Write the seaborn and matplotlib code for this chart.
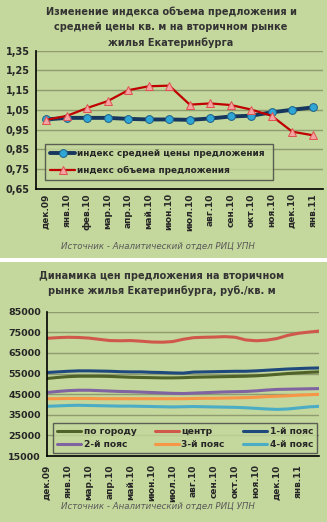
import matplotlib
matplotlib.use("Agg")
import matplotlib.pyplot as plt
import seaborn as sns
import pandas as pd
from matplotlib.patches import Rectangle
from matplotlib.lines import Line2D
from matplotlib.ticker import FuncFormatter, FixedLocator

# ---------------- data ----------------
months_top = ["дек.09", "янв.10", "фев.10", "мар.10", "апр.10", "май.10", "июн.10",
              "июл.10", "авг.10", "сен.10", "окт.10", "ноя.10", "дек.10", "янв.11"]
price_index = [1.002, 1.010, 1.010, 1.010, 1.005, 1.002, 1.002,
               1.000, 1.007, 1.017, 1.021, 1.038, 1.051, 1.063]
volume_index = [1.000, 1.020, 1.060, 1.095, 1.150, 1.170, 1.173,
                1.077, 1.083, 1.075, 1.052, 1.020, 0.940, 0.922]

months_bottom = ["дек.09", "янв.10", "мар.10", "апр.10", "май.10", "июн.10", "июл.10",
                 "авг.10", "сен.10", "окт.10", "ноя.10", "дек.10", "янв.11"]
city = [52600, 53100, 53500, 53700, 53700, 53700, 53600, 53400, 53200, 53100, 53000, 52900, 52900,
        53000, 53200, 53300, 53400, 53500, 53600, 53700, 53900, 54200, 54600, 55000, 55300, 55600, 55800]
center = [72100, 72400, 72600, 72500, 72200, 71600, 71000, 70900, 71000, 70700, 70300, 70200, 70500,
          71600, 72400, 72600, 72700, 72900, 72600, 71300, 70900, 71200, 72000, 73500, 74500, 75100, 75600]
belt1 = [55500, 55800, 56100, 56300, 56300, 56200, 56100, 55900, 55800, 55800, 55600, 55500, 55300,
         55200, 55700, 55800, 55900, 56000, 56100, 56100, 56300, 56600, 56900, 57200, 57400, 57600, 57700]
belt2 = [45800, 46300, 46700, 46900, 46900, 46700, 46500, 46300, 46200, 46000, 45800, 45600, 45400,
         45300, 45500, 45700, 45900, 46100, 46200, 46300, 46600, 47000, 47300, 47400, 47500, 47600, 47700]
belt3 = [42800, 42800, 42900, 42900, 42900, 42800, 42800, 42800, 42800, 42800, 42800, 42800, 42800,
         42800, 42900, 43000, 43000, 43100, 43200, 43300, 43500, 43800, 44000, 44200, 44500, 44700, 44900]
belt4 = [39100, 39300, 39500, 39600, 39500, 39400, 39300, 39200, 39200, 39100, 39000, 38900, 38800,
         38900, 39000, 38900, 38800, 38700, 38600, 38400, 38100, 37800, 37600, 37800, 38300, 38800, 39100]

series_names = ["по городу", "центр", "1-й пояс", "2-й пояс", "3-й пояс", "4-й пояс"]
series_vals = [city, center, belt1, belt2, belt3, belt4]
series_cols = ["#4F6228", "#D0584A", "#1F497D", "#8064A2", "#F79646", "#4BACC6"]

BG = "#C4D79C"
GRID = "#8E9C70"
TXT = "#262626"

sns.set_theme(style="white")
plt.rcParams["font.family"] = ["DejaVu Sans"]

fig = plt.figure(figsize=(3.27, 5.22), dpi=100, facecolor=BG)
W, H = 327.0, 522.0

# white separator band
fig.add_artist(Rectangle((0, 1 - 262 / H), 1, 4 / H, transform=fig.transFigure,
                         facecolor="white", edgecolor="none", zorder=0))

# ---------------- top chart ----------------
ax1 = fig.add_axes([36 / W, 1 - 189 / H, 287 / W, (189 - 50.7) / H])
ax1.set_facecolor(BG)
df_top = pd.DataFrame({"pos": range(len(months_top)), "price": price_index, "vol": volume_index})
sns.lineplot(data=df_top, x="pos", y="price", ax=ax1, color="#17375E", lw=2.8,
             marker="o", markersize=5.6, markerfacecolor="#2FA6D4", markeredgecolor="#1B5F8A",
             markeredgewidth=0.7, label="индекс средней цены предложения", zorder=3)
sns.lineplot(data=df_top, x="pos", y="vol", ax=ax1, color="#C00000", lw=1.6,
             marker="^", markersize=5.2, markerfacecolor="#F4A3A3", markeredgecolor="#E05050",
             markeredgewidth=0.7, label="индекс объема предложения", zorder=4)
ax1.set_xlim(-0.5, len(months_top) - 0.5)
ax1.set_ylim(0.65, 1.35)
yt = [0.65, 0.75, 0.85, 0.95, 1.05, 1.15, 1.25, 1.35]
ax1.set_yticks(yt)
ax1.yaxis.set_major_formatter(FuncFormatter(lambda v, p: f"{v:.2f}".replace(".", ",")))
ax1.set_xticks(range(len(months_top)))
ax1.set_xticklabels(months_top, rotation=90)
ax1.xaxis.set_minor_locator(FixedLocator([i - 0.5 for i in range(len(months_top) + 1)]))
ax1.tick_params(axis="x", which="major", length=0, pad=3, labelsize=6.5, colors=TXT)
ax1.tick_params(axis="x", which="minor", length=4, width=1, color="black", direction="out")
ax1.tick_params(axis="y", length=5, width=1, color="black", direction="inout", labelsize=7, colors=TXT, pad=2)
for lab in ax1.get_xticklabels() + ax1.get_yticklabels():
    lab.set_fontweight("bold")
ax1.grid(axis="y", color=GRID, lw=1)
ax1.set_axisbelow(True)
for s in ["top", "right"]:
    ax1.spines[s].set_visible(False)
for s in ["left", "bottom"]:
    ax1.spines[s].set_color("black")
    ax1.spines[s].set_linewidth(1.2)
ax1.set_xlabel("")
ax1.set_ylabel("")
leg1 = ax1.legend(loc="lower left", bbox_to_anchor=(45 / W, 1 - 180 / H, 228 / W, 42 / H),
                  bbox_transform=fig.transFigure, mode="expand", borderaxespad=0,
                  frameon=True, fancybox=False, facecolor=BG, edgecolor="#404040",
                  prop={"weight": "bold", "size": 6.4}, handlelength=2.8, handletextpad=0.15,
                  labelspacing=0.85, borderpad=0.6)
leg1.get_frame().set_linewidth(1.0)
for t in leg1.get_texts():
    t.set_color(TXT)

fig.text(171 / W, 1 - 27 / H,
         "Изменение индекса объема предложения и\nсредней цены кв. м на вторичном рынке\nжилья Екатеринбурга",
         ha="center", va="center", fontsize=7.05, fontweight="bold", color="#333333", linespacing=1.6)
fig.text(158 / W, 1 - 246 / H, "Источник - Аналитический отдел РИЦ УПН", ha="center", va="center",
         fontsize=6.2, style="italic", color="#595959")

# ---------------- bottom chart ----------------
ax2 = fig.add_axes([47 / W, 1 - 456 / H, 272 / W, (456 - 311.7) / H])
ax2.set_facecolor(BG)
n2 = len(city)
rows = []
for name, vals in zip(series_names, series_vals):
    for i, v in enumerate(vals):
        rows.append({"period": i, "value": v, "series": name})
df_b = pd.DataFrame(rows)
sns.lineplot(data=df_b, x="period", y="value", hue="series", hue_order=series_names,
             palette=series_cols, lw=2.2, ax=ax2, legend=False)
ax2.set_xlim(0, n2 - 1)
ax2.set_ylim(15000, 85000)
ax2.set_yticks(range(15000, 85001, 10000))
ax2.set_xticks(range(0, 2 * len(months_bottom), 2))
ax2.set_xticklabels(months_bottom, rotation=90)
ax2.tick_params(axis="x", length=4, width=1, color="black", direction="out", labelsize=6.5, colors=TXT, pad=2)
ax2.tick_params(axis="y", length=5, width=1, color="black", direction="inout", labelsize=6.8, colors=TXT, pad=2)
for lab in ax2.get_xticklabels() + ax2.get_yticklabels():
    lab.set_fontweight("bold")
ax2.grid(axis="y", color=GRID, lw=1)
ax2.set_axisbelow(True)
for s in ["top", "right"]:
    ax2.spines[s].set_visible(False)
for s in ["left", "bottom"]:
    ax2.spines[s].set_color("black")
    ax2.spines[s].set_linewidth(1.2)
ax2.set_xlabel("")
ax2.set_ylabel("")

order = ["по городу", "2-й пояс", "центр", "3-й пояс", "1-й пояс", "4-й пояс"]
hs = [Line2D([], [], color=series_cols[series_names.index(n)], lw=2.2) for n in order]
leg2 = ax2.legend(hs, order, loc="lower left", ncol=3,
                  bbox_to_anchor=(53 / W, 1 - 453 / H, 264 / W, 31 / H),
                  bbox_transform=fig.transFigure, mode="expand", borderaxespad=0,
                  frameon=True, fancybox=False, facecolor=BG, edgecolor="#404040",
                  prop={"weight": "bold", "size": 6.6}, handlelength=2.6, handletextpad=0.3,
                  labelspacing=0.45, borderpad=0.45, columnspacing=0.8)
leg2.get_frame().set_linewidth(1.0)
for t in leg2.get_texts():
    t.set_color(TXT)

fig.text(162 / W, 1 - 283.5 / H,
         "Динамика цен предложения на вторичном\nрынке жилья Екатеринбурга, руб./кв. м",
         ha="center", va="center", fontsize=7.05, fontweight="bold", color="#333333", linespacing=1.6)
fig.text(158 / W, 1 - 505.7 / H, "Источник - Аналитический отдел РИЦ УПН", ha="center", va="center",
         fontsize=6.2, style="italic", color="#595959")

fig.savefig("out.png", dpi=100, facecolor=BG)
